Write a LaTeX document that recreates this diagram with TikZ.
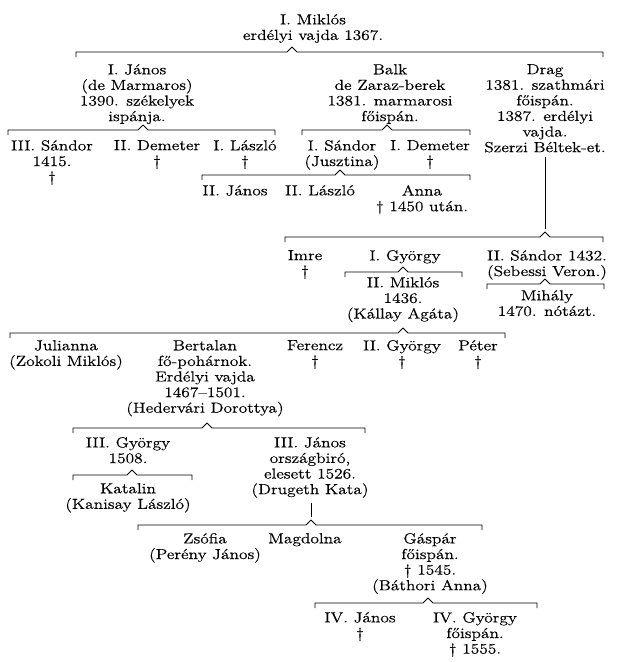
\documentclass[tikz,border=0pt]{standalone}
\usepackage{fontspec}
\setmainfont{lmroman12-regular.otf}[FakeStretch=1.2, FakeBold=0.4]
\usepackage{tikz}
\usetikzlibrary{calc, positioning}

\tikzset{
  person/.style={align=center, anchor=north, inner sep=0pt, yshift=10pt, font=\fontsize{14.5}{15.6}\selectfont},
  kinline/.style={line width=0.8pt, line join=round}
}
% Klammer: linkes Ende, Spitze, rechtes Ende
\newcommand{\kinbar}[3]{%
  \draw[kinline] ($(#1)+(0,-5)$) -- (#1) -- ($(#2)+(-5,0)$) -- ($(#2)+(0,5)$)
    -- ($(#2)+(5,0)$) -- (#3) -- ($(#3)+(0,-5)$);}

\begin{document}
\begin{tikzpicture}[x=1pt, y=1pt]
    \useasboundingbox (0,0) rectangle (626,-662);
    % Stammvater
    \node[person] (miklos1) at (313,-24) {I. Miklós\\erdélyi vajda 1367.};
    \coordinate (b1l) at (76,-52);
    \coordinate (b1c) at (292,-52);
    \coordinate (b1r) at (603,-52);
    \kinbar{b1l}{b1c}{b1r}
    % Söhne
    \node[person] (janos1) at (137,-74) {I. János\\(de Marmaros)\\1390. székelyek\\ispánja.};
    \node[person] (balk) at (390,-74) {Balk\\de Zaraz-berek\\1381. marmarosi\\főispán.};
    \node[person] (drag) at (545,-74) {Drag\\1381. szathmári\\főispán.\\1387. erdélyi\\vajda.\\Szerzi Béltek-et.};
    \coordinate (b2l) at (8,-130);
    \coordinate (b2c) at (143,-130);
    \coordinate (b2r) at (275,-130);
    \kinbar{b2l}{b2c}{b2r}
    \coordinate (b3l) at (302,-130);
    \coordinate (b3c) at (387,-130);
    \coordinate (b3r) at (470,-130);
    \kinbar{b3l}{b3c}{b3r}
    % Enkel
    \node[person] (sandor3) at (52,-150) {III. Sándor\\1415.\\†};
    \node[person] (demeter2) at (157,-150) {II. Demeter\\†};
    \node[person] (laszlo1) at (245,-150) {I. László\\†};
    \node[person] (sandor1) at (342,-150) {I. Sándor\\(Jusztina)};
    \node[person] (demeter1) at (430,-150) {I. Demeter\\†};
    \coordinate (b4l) at (202,-175);
    \coordinate (b4c) at (340,-175);
    \coordinate (b4r) at (470,-175);
    \kinbar{b4l}{b4c}{b4r}
    \node[person] (janos2) at (235,-195) {II. János};
    \node[person] (laszlo2) at (320,-195) {II. László};
    \node[person] (anna) at (422,-195) {Anna\\† 1450 után.};
    % Linie Drag
    \coordinate (b5l) at (285,-237);
    \coordinate (b5c) at (545,-237);
    \coordinate (b5r) at (603,-237);
    \kinbar{b5l}{b5c}{b5r}
    \draw[kinline] ($(drag.south -| b5c)+(0,-4)$) -- ($(b5c)+(0,8)$);
    \node[person] (imre) at (305,-260) {Imre\\†};
    \node[person] (gyorgy1) at (405,-260) {I. György};
    \node[person] (sandor2) at (547,-260) {II. Sándor 1432.\\(Sebessi Veron.)};
    \coordinate (b6l) at (345,-272);
    \coordinate (b6c) at (403,-272);
    \coordinate (b6r) at (462,-272);
    \kinbar{b6l}{b6c}{b6r}
    \node[person] (miklos2) at (403,-287) {II. Miklós\\1436.\\(Kállay Agáta)};
    \coordinate (b7l) at (487,-284);
    \coordinate (b7c) at (545,-284);
    \coordinate (b7r) at (604,-284);
    \kinbar{b7l}{b7c}{b7r}
    \node[person] (mihaly) at (547,-300) {Mihály\\1470. nótázt.};
    % Kinder von II. Miklós
    \coordinate (b8l) at (10,-333);
    \coordinate (b8c) at (403,-333);
    \coordinate (b8r) at (505,-333);
    \kinbar{b8l}{b8c}{b8r}
    \node[person] (julianna) at (66,-350) {Julianna\\(Zokoli Miklós)};
    \node[person] (bertalan) at (205,-350) {Bertalan\\fő-pohárnok.\\Erdélyi vajda\\1467--1501.\\(Hedervári Dorottya)};
    \node[person] (ferencz) at (315,-350) {Ferencz\\†};
    \node[person] (gyorgy2) at (402,-350) {II. György\\†};
    \node[person] (peter) at (478,-350) {Péter\\†};
    % Kinder von Bertalan
    \coordinate (b9l) at (73,-428);
    \coordinate (b9c) at (207,-428);
    \coordinate (b9r) at (365,-428);
    \kinbar{b9l}{b9c}{b9r}
    \node[person] (gyorgy3) at (128,-447) {III. György\\1508.};
    \node[person] (janos3) at (310,-447) {III. János\\országbiró,\\elesett 1526.\\(Drugeth Kata)};
    \coordinate (b10l) at (73,-475);
    \coordinate (b10c) at (132,-475);
    \coordinate (b10r) at (192,-475);
    \kinbar{b10l}{b10c}{b10r}
    \node[person] (katalin) at (128,-493) {Katalin\\(Kanisay László)};
    % Kinder von III. János
    \coordinate (b11l) at (138,-525);
    \coordinate (b11c) at (311,-525);
    \coordinate (b11r) at (482,-525);
    \kinbar{b11l}{b11c}{b11r}
    \draw[kinline] ($(janos3.south -| b11c)+(0,-5)$) -- ($(b11c)+(0,8)$);
    \node[person] (zsofia) at (205,-543) {Zsófia\\(Perény János)};
    \node[person] (magdolna) at (305,-543) {Magdolna};
    \node[person] (gaspar) at (430,-543) {Gáspár\\főispán.\\† 1545.\\(Báthori Anna)};
    \coordinate (b12l) at (315,-603);
    \coordinate (b12c) at (428,-603);
    \coordinate (b12r) at (537,-603);
    \kinbar{b12l}{b12c}{b12r}
    \node[person] (janos4) at (360,-622) {IV. János\\†};
    \node[person] (gyorgy4) at (475,-622) {IV. György\\főispán.\\† 1555.};
\end{tikzpicture}
\end{document}
